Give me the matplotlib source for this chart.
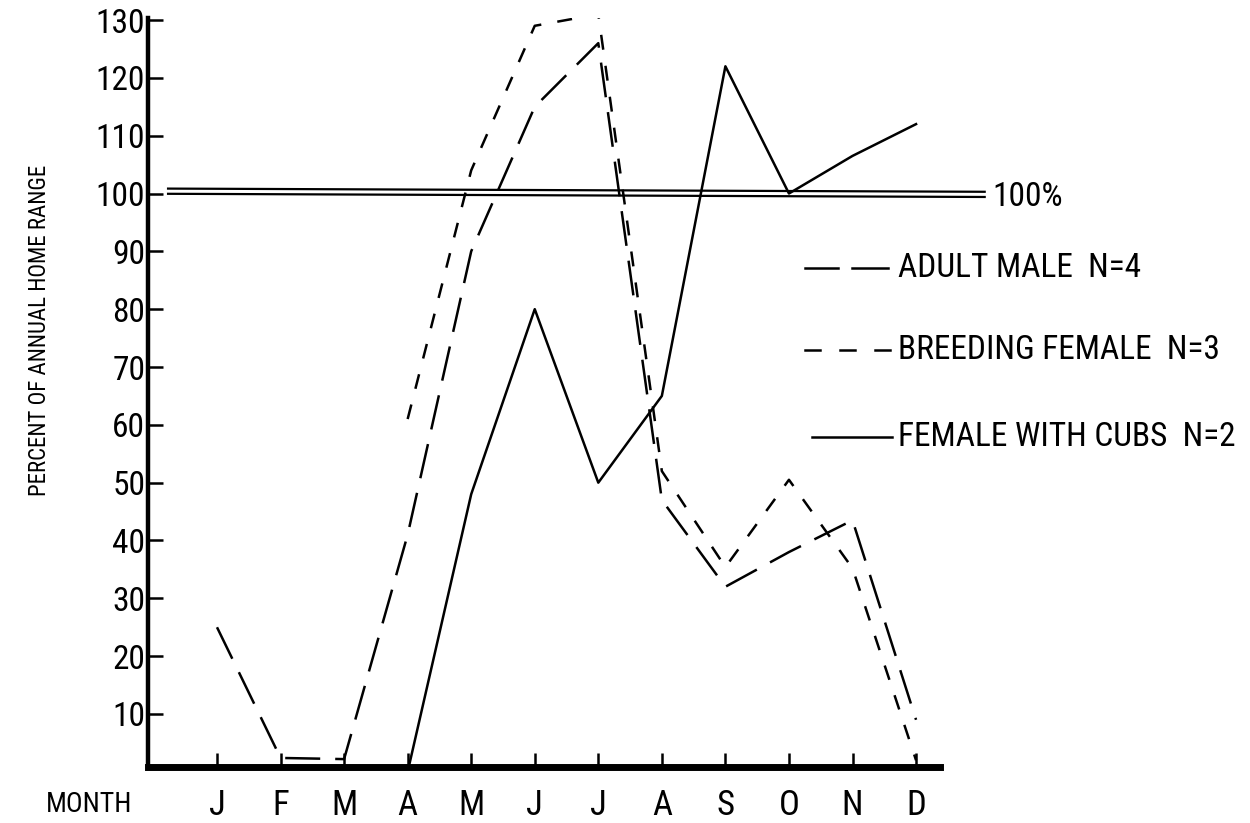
import numpy as np
import matplotlib
matplotlib.use("Agg")
import matplotlib.pyplot as plt
from matplotlib import font_manager as fm

months = ["J", "F", "M", "A", "M", "J", "J", "A", "S", "O", "N", "D"]
month_pos = np.arange(1, 13)
adult_male = [25, 2.4, 2.2, 41, 90, 115, 126, 47, 32, 38, 43.5, 9]
breeding_female = [np.nan, np.nan, np.nan, 61, 104, 129, 131, 52, 35.4, 50.5, 35.2, 2]
female_cubs = [np.nan, np.nan, np.nan, 0, 48, 80, 50, 65, 122, 100, 106.5, 112]
yticks = [10, 20, 30, 40, 50, 60, 70, 80, 90, 100, 110, 120, 130]
legend_labels = ["ADULT MALE  N=4", "BREEDING FEMALE  N=3", "FEMALE WITH CUBS  N=2"]
ref_level = 100


def pick_narrow_font():
    entries = fm.fontManager.ttflist
    for nm in ["Liberation Sans Narrow", "Roboto Condensed", "Open Sans Condensed",
               "Noto Sans Condensed", "DejaVu Sans Condensed"]:
        if any(e.name == nm for e in entries):
            return nm, "normal", True
    for nm in ["DejaVu Sans", "Noto Sans", "Roboto", "Open Sans"]:
        for e in entries:
            if e.name == nm and str(e.stretch) in ("condensed", "semi-condensed", "extra-condensed"):
                return nm, str(e.stretch), True
    return "DejaVu Sans", "normal", False


fam, stretch, narrow = pick_narrow_font()
plt.rcParams['font.family'] = [fam, 'DejaVu Sans']
plt.rcParams['font.stretch'] = stretch
k = 1.0 if narrow else 0.78

W, H = 1250, 823
fig = plt.figure(figsize=(W / 100, H / 100), dpi=100)
x0_px, x1_px = 148, 940
y_top_px, y_bot_px = 17.7, 767.2
ax = fig.add_axes([x0_px / W, 1 - y_bot_px / H, (x1_px - x0_px) / W, (y_bot_px - y_top_px) / H])

px_per_month = 63.55
ax.set_xlim(1 - (217 - x0_px) / px_per_month, 1 + (x1_px - 217) / px_per_month)
ax.set_ylim(0.8, 130.4)

lw = 1.8
male_style = (0, (14, 6))
breed_style = (0, (6, 6.5))

ax.plot(month_pos, adult_male, color='black', lw=lw, linestyle=male_style)
ax.plot(month_pos, breeding_female, color='black', lw=lw, linestyle=breed_style)
ax.plot(month_pos, female_cubs, color='black', lw=lw, linestyle='-')

# 100% double reference line
xr = [0.23, 13.08]
ax.plot(xr, [ref_level + 0.85, ref_level + 0.3], color='black', lw=1.6, clip_on=False)
ax.plot(xr, [ref_level - 0.05, ref_level - 0.6], color='black', lw=1.6, clip_on=False)
ax.text(13.2, ref_level - 0.6, "100%", fontsize=24 * k, va='center', ha='left')

# legend drawn by hand
leg_x0, leg_x1, leg_tx = 10.25, 11.56, 11.72
leg_ys = [87.1, 72.9, 57.9]
ax.plot([leg_x0, leg_x0 + 0.52], [leg_ys[0]] * 2, color='black', lw=lw, clip_on=False)
ax.plot([leg_x0 + 0.74, leg_x1], [leg_ys[0]] * 2, color='black', lw=lw, clip_on=False)
for j in range(3):
    a = leg_x0 + j * 0.55
    ax.plot([a, a + 0.24], [leg_ys[1]] * 2, color='black', lw=lw, clip_on=False)
ax.plot([leg_x0 + 0.11, leg_x1 + 0.06], [leg_ys[2]] * 2, color='black', lw=lw, clip_on=False)
for yv, lab in zip(leg_ys, legend_labels):
    ax.text(leg_tx, yv, lab, fontsize=24 * k, va='center', ha='left')

for s in ['top', 'right']:
    ax.spines[s].set_visible(False)
ax.spines['left'].set_linewidth(3.2)
ax.spines['bottom'].set_linewidth(5)
ax.set_xticks(month_pos)
ax.set_xticklabels(months, fontsize=25 * k)
ax.set_yticks(yticks)
ax.set_yticklabels([str(v) for v in yticks], fontsize=24 * k)
ax.tick_params(axis='y', direction='in', length=11, width=1.8, pad=2)
ax.tick_params(axis='x', direction='in', length=10, width=1.8, pad=16)

ax.set_ylabel("PERCENT OF ANNUAL HOME RANGE", fontsize=16.5 * k)
ax.yaxis.set_label_coords((51 - x0_px) / (x1_px - x0_px), (y_bot_px - 330) / (y_bot_px - y_top_px))
fig.text(89 / W, 1 - 805 / H, "MONTH", fontsize=20 * k, ha='center', va='center')

fig.savefig("out.png", dpi=100)
